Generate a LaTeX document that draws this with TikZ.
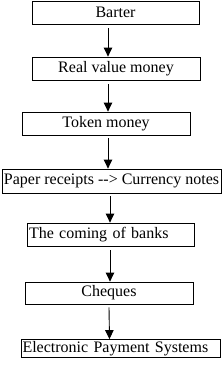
\documentclass[tikz,border=0pt]{standalone}
\usepackage{fontspec}
\setmainfont{Liberation Serif}
\usetikzlibrary{arrows.meta,positioning,calc}
\tikzset{
  >={Triangle[length=9pt,width=8.5pt]},
  % rutor
  stage/.style={draw=black,line width=0.8pt,fill=white,inner sep=0pt,
                font=\fontsize{16}{18}\selectfont},
  flow/.style={->,draw=black,line width=0.9pt},
}
\begin{document}
\begin{tikzpicture}[x=1pt,y=1pt]
  \useasboundingbox (0,0) rectangle (224,-366);
  \node[stage,minimum width=167pt,minimum height=23pt] (barter)  at (115.5,-12.5) {Barter};
  \node[stage,minimum width=168pt,minimum height=23pt] (realval) at (116,-68.5)   {Real value money};
  \node[stage,minimum width=168pt,minimum height=23pt] (token)   at (106,-123.5)  {Token money};
  \node[stage,minimum width=219pt,minimum height=24pt] (paper)   at (111.5,-181)  {Paper receipts -{}-> Currency notes};
  \node[stage,minimum width=167pt,minimum height=23pt,text width=163pt,align=left] (banks) at (110.5,-234.5) {The coming of banks};
  \node[stage,minimum width=168pt,minimum height=22pt] (cheques) at (109,-293)    {Cheques};
  \node[stage,minimum width=199pt,minimum height=18pt,text width=196pt,align=left] (eps) at (120.5,-348.5) {Electronic Payment Systems};
  \draw[flow] ([xshift=-7.5pt,yshift=-4pt]barter.south) -- ([xshift=-8pt]realval.north);
  \draw[flow] ([xshift=-8pt,yshift=-4pt]realval.south) -- ([xshift=2pt]token.north);
  \draw[flow] ([xshift=2pt,yshift=-3pt]token.south) -- ([xshift=-3.5pt]paper.north);
  \draw[flow] ([xshift=-1.5pt,yshift=-3pt]paper.south) -- ([xshift=-0.5pt]banks.north);
  \draw[flow] ([xshift=-0.5pt,yshift=-4pt]banks.south) -- ([xshift=1pt]cheques.north);
  \draw[flow] ([xshift=0pt,yshift=-3pt]cheques.south) -- ([xshift=-11pt]eps.north);
\end{tikzpicture}
\end{document}
